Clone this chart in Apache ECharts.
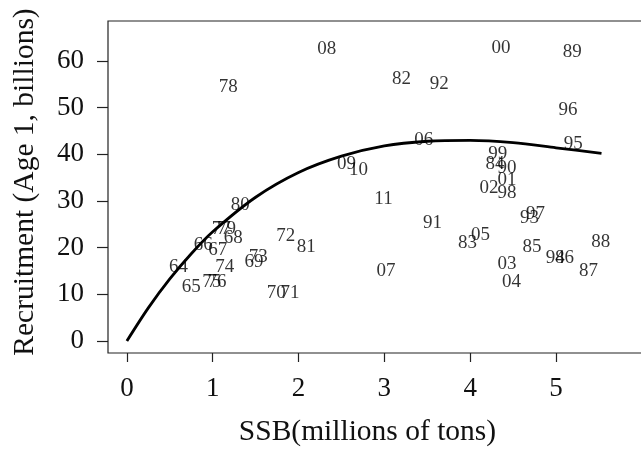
<!DOCTYPE html>
<html>
<head>
<meta charset="utf-8">
<script src="https://cdn.jsdelivr.net/npm/echarts@6/dist/echarts.min.js"></script>
<style>
  html, body { margin: 0; padding: 0; background: #fff; }
  #chart { width: 641px; height: 450px; }
</style>
</head>
<body>
<div id="chart"></div>
<script>
// Year labels (two-digit) for each stock–recruitment observation
const years = ['64','65','66','67','68','69','70','71','72','73','74','75','76','77','78','79',
  '80','81','82','83','84','85','86','87','88','89','90','91','92','93','94','95','96','97','98','99',
  '00','01','02','03','04','05','06','07','08','09','10','11'];

// Spawning stock biomass (millions of tons)
const ssb = [0.60, 0.75, 0.89, 1.06, 1.24, 1.48, 1.74, 1.90, 1.85, 1.53, 1.14, 0.99, 1.05, 1.10, 1.18, 1.16,
  1.32, 2.09, 3.20, 3.97, 4.29, 4.72, 5.10, 5.38, 5.52, 5.19, 4.43, 3.56, 3.64, 4.69, 4.99, 5.20, 5.14, 4.76, 4.43, 4.32,
  4.36, 4.43, 4.22, 4.43, 4.48, 4.12, 3.46, 3.02, 2.33, 2.56, 2.70, 2.99];

// Recruitment at age 1 (billions)
const recruits = [15.9, 11.6, 20.6, 19.5, 22.0, 17.0, 10.2, 10.2, 22.5, 17.9, 15.8, 12.7, 12.7, 24.1, 54.4, 24.1,
  29.1, 20.1, 56.1, 21.1, 37.9, 20.1, 17.7, 14.9, 21.3, 62.0, 37.0, 25.2, 55.1, 26.3, 17.7, 42.2, 49.5, 27.2, 31.8, 40.1,
  62.7, 34.5, 32.7, 16.4, 12.7, 22.7, 43.1, 14.9, 62.6, 37.9, 36.6, 30.4];

// Fitted stock–recruitment curve, sampled along SSB
const curveSsb = [0, 0.25, 0.5, 0.75, 1.0, 1.5, 2.0, 2.5, 3.0, 3.5, 4.0, 4.5, 5.0, 5.53];
const curveRec = [0, 7.1, 13.3, 18.7, 23.4, 30.8, 36.1, 39.6, 41.8, 42.8, 43.0, 42.5, 41.4, 40.2];

// Axis tick labels
const xTicks = [0, 1, 2, 3, 4, 5];
const yTicks = [0, 10, 20, 30, 40, 50, 60];

const FONT = 'Liberation Serif';

const chart = echarts.init(document.getElementById('chart'), null, { renderer: 'canvas' });

const points = ssb.map((s, i) => [s, recruits[i], years[i]]);
const curve = curveSsb.map((s, i) => [s, curveRec[i]]);

chart.setOption({
  animation: false,
  backgroundColor: '#fff',
  grid: {
    left: 108, top: 21, width: 551, height: 332,
    outerBoundsMode: 'none', containLabel: false,
    show: true, borderColor: '#222', borderWidth: 1.2, backgroundColor: 'transparent'
  },
  xAxis: {
    type: 'value', min: -0.22, max: 6.2,
    name: 'SSB(millions of tons)', nameLocation: 'middle', nameGap: 64, nameMoveOverlap: false,
    nameTextStyle: { fontFamily: FONT, fontSize: 29.5, color: '#111', padding: [0, 32, 0, 0] },
    axisLine: { show: false, onZero: false },
    splitLine: { show: false },
    axisTick: { show: true, inside: false, length: 9, customValues: xTicks, lineStyle: { color: '#222', width: 1.2 } },
    axisLabel: { customValues: xTicks, margin: 22, fontFamily: FONT, fontSize: 27, color: '#111' }
  },
  yAxis: {
    type: 'value', min: -2.57, max: 68.57,
    name: 'Recruitment (Age 1, billions)', nameLocation: 'middle', nameGap: 68, nameMoveOverlap: false,
    nameTextStyle: { fontFamily: FONT, fontSize: 29.5, color: '#111', padding: [0, 0, 0, 10] },
    axisLine: { show: false, onZero: false },
    splitLine: { show: false },
    axisTick: { show: true, inside: false, length: 11, customValues: yTicks, lineStyle: { color: '#222', width: 1.2 } },
    axisLabel: { customValues: yTicks, margin: 24, fontFamily: FONT, fontSize: 27, color: '#111' }
  },
  series: [
    {
      type: 'line',
      data: curve,
      smooth: 0.3,
      showSymbol: false,
      lineStyle: { color: '#000', width: 2.8 },
      z: 2
    },
    {
      type: 'scatter',
      data: points,
      symbol: 'circle',
      symbolSize: 1,
      itemStyle: { color: 'rgba(0,0,0,0)' },
      label: {
        show: true,
        position: 'inside',
        formatter: p => p.data[2],
        fontFamily: FONT,
        fontSize: 19,
        color: '#000'
      },
      z: 3
    }
  ]
});
</script>
</body>
</html>
